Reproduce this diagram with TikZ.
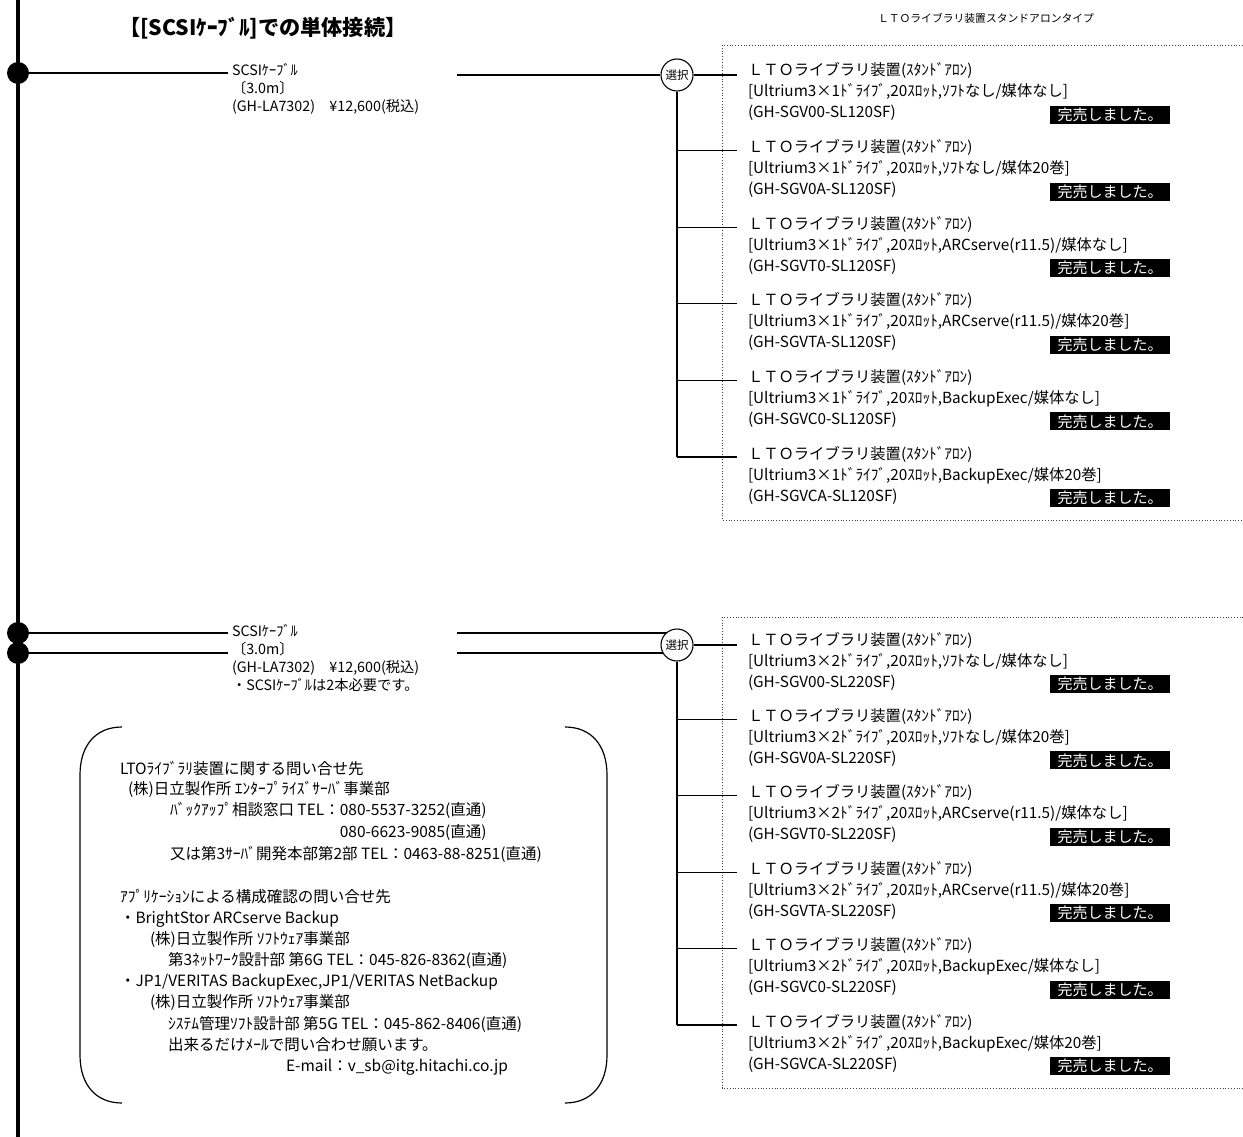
\documentclass[tikz,border=0pt]{standalone}
\usepackage{fontspec}
\setmainfont{Noto Sans CJK JP}
\begin{document}
\begin{tikzpicture}[x=1pt,y=-1pt,
  txt/.style={anchor=west, inner sep=0pt, outer sep=0pt, font=\fontsize{15.3}{16}\selectfont, text height=11pt, text depth=3pt},
  lbl/.style={txt, font=\fontsize{14.3}{15}\selectfont},
  info/.style={txt, font=\fontsize{15.5}{16}\selectfont},
  wire/.style={line width=1.2pt},
  bus/.style={line width=4.5pt},
  dotbox/.style={dotted, line width=0.8pt, draw=black!75},
  selc/.style={circle, draw, line width=1.1pt, fill=white, minimum size=32pt, inner sep=0pt, font=\fontsize{11.5}{12}\selectfont},
  sold/.style={fill=black, text=white, minimum width=120pt, minimum height=18pt, inner sep=0pt, font=\fontsize{15}{15}\selectfont},
  joint/.style={circle, fill=black, minimum size=22pt, inner sep=0pt},
  bracketline/.style={line width=1.2pt},
]
\useasboundingbox (0,0) rectangle (1243,1137);
\clip (0,0) rectangle (1243,1137);

\newcommand\ltoentry[4]{%
  \node[txt] (#1a) at (748,#2) {ＬＴＯライブラリ装置(ｽﾀﾝﾄﾞｱﾛﾝ)};
  \node[txt] (#1b) at (748,#2+21) {#3};
  \node[txt] (#1c) at (748,#2+42) {#4};
  \node[sold] (#1s) at (1110,#2+43) {完売しました。};
}

% title and header
\node[txt, font=\bfseries\fontsize{21.2}{22}\selectfont, text height=16pt, text depth=4pt] (title) at (119,30) {【[SCSIｹｰﾌﾞﾙ]での単体接続】};
\node[inner sep=0pt, font=\fontsize{10.8}{12}\selectfont] (head) at (986,18) {ＬＴＯライブラリ装置スタンドアロンタイプ};

% dotted boxes
\draw[dotbox] (722,45) rectangle (1255,520);
\draw[dotbox] (722,617) rectangle (1255,1088);

% bus
\coordinate (bt) at (18,0);
\coordinate (bb) at (18,1137);
\draw[bus] (bt) -- (bb);

% joints and cables (left)
\coordinate (c1) at (228,73);
\coordinate (c2) at (228,633);
\coordinate (c3) at (228,653);
\node[joint] (d1) at (18,73) {};
\node[joint] (d2) at (18,633) {};
\node[joint] (d3) at (18,653) {};
\draw[wire] (d1.center) -- (c1);
\draw[wire] (d2.center) -- (c2);
\draw[wire] (d3.center) -- (c3);

% cable labels
\node[lbl] (l1a) at (232,72) {SCSIｹｰﾌﾞﾙ};
\node[lbl] (l1b) at (232,90) {〔3.0m〕};
\node[lbl] (l1c) at (232,108) {(GH-LA7302)\hspace{1em}¥12,600(税込)};
\node[lbl] (l2a) at (232,632) {SCSIｹｰﾌﾞﾙ};
\node[lbl] (l2b) at (232,650) {〔3.0m〕};
\node[lbl] (l2c) at (232,668) {(GH-LA7302)\hspace{1em}¥12,600(税込)};
\node[lbl] (l2d) at (232,686) {・SCSIｹｰﾌﾞﾙは2本必要です。};

% selection circles
\coordinate (r1) at (457,75);
\node[selc] (sel1) at (677,75) {選択};
\draw[wire] (r1) -- (sel1.west);
\coordinate (k1) at (737,75);
\draw[wire] (sel1.east) -- (k1);
\coordinate (t1end) at (677,457);
\draw[wire] (sel1.south) -- (t1end);

\coordinate (s2c) at (677,645);
\coordinate (r2) at (457,633);
\coordinate (r3) at (457,653);
\draw[wire] (r2) -- (r2 -| s2c);
\draw[wire] (r3) -- (r3 -| s2c);
\node[selc] (sel2) at (s2c) {選択};
\coordinate (m1) at (737,645);
\draw[wire] (sel2.east) -- (m1);
\coordinate (t2end) at (677,1025);
\draw[wire] (sel2.south) -- (t2end);

% branches
\foreach \yy [count=\i from 2] in {148.6,225.2,301.8,378.4,455}{
  \coordinate (j\i) at (677,\yy+2);
  \coordinate (k\i) at (737,\yy+2);
  \draw[wire] (j\i) -- (k\i);
}
\foreach \yy [count=\i from 2] in {717.4,793.8,870.2,946.6,1023}{
  \coordinate (p\i) at (677,\yy+2);
  \coordinate (q\i) at (737,\yy+2);
  \draw[wire] (p\i) -- (q\i);
}

% top group entries
\ltoentry{e1}{72}{[Ultrium3×1ﾄﾞﾗｲﾌﾞ,20ｽﾛｯﾄ,ｿﾌﾄなし/媒体なし]}{(GH-SGV00-SL120SF)}
\ltoentry{e2}{148.6}{[Ultrium3×1ﾄﾞﾗｲﾌﾞ,20ｽﾛｯﾄ,ｿﾌﾄなし/媒体20巻]}{(GH-SGV0A-SL120SF)}
\ltoentry{e3}{225.2}{[Ultrium3×1ﾄﾞﾗｲﾌﾞ,20ｽﾛｯﾄ,ARCserve(r11.5)/媒体なし]}{(GH-SGVT0-SL120SF)}
\ltoentry{e4}{301.8}{[Ultrium3×1ﾄﾞﾗｲﾌﾞ,20ｽﾛｯﾄ,ARCserve(r11.5)/媒体20巻]}{(GH-SGVTA-SL120SF)}
\ltoentry{e5}{378.4}{[Ultrium3×1ﾄﾞﾗｲﾌﾞ,20ｽﾛｯﾄ,BackupExec/媒体なし]}{(GH-SGVC0-SL120SF)}
\ltoentry{e6}{455}{[Ultrium3×1ﾄﾞﾗｲﾌﾞ,20ｽﾛｯﾄ,BackupExec/媒体20巻]}{(GH-SGVCA-SL120SF)}

% bottom group entries
\ltoentry{f1}{641}{[Ultrium3×2ﾄﾞﾗｲﾌﾞ,20ｽﾛｯﾄ,ｿﾌﾄなし/媒体なし]}{(GH-SGV00-SL220SF)}
\ltoentry{f2}{717.4}{[Ultrium3×2ﾄﾞﾗｲﾌﾞ,20ｽﾛｯﾄ,ｿﾌﾄなし/媒体20巻]}{(GH-SGV0A-SL220SF)}
\ltoentry{f3}{793.8}{[Ultrium3×2ﾄﾞﾗｲﾌﾞ,20ｽﾛｯﾄ,ARCserve(r11.5)/媒体なし]}{(GH-SGVT0-SL220SF)}
\ltoentry{f4}{870.2}{[Ultrium3×2ﾄﾞﾗｲﾌﾞ,20ｽﾛｯﾄ,ARCserve(r11.5)/媒体20巻]}{(GH-SGVTA-SL220SF)}
\ltoentry{f5}{946.6}{[Ultrium3×2ﾄﾞﾗｲﾌﾞ,20ｽﾛｯﾄ,BackupExec/媒体なし]}{(GH-SGVC0-SL220SF)}
\ltoentry{f6}{1023}{[Ultrium3×2ﾄﾞﾗｲﾌﾞ,20ｽﾛｯﾄ,BackupExec/媒体20巻]}{(GH-SGVCA-SL220SF)}

% info box brackets
\draw[bracketline] (122,727) .. controls (96,727) and (80,745) .. (80,775) -- (80,1055) .. controls (80,1085) and (96,1103) .. (122,1103);
\draw[bracketline] (565,727) .. controls (591,727) and (607,745) .. (607,775) -- (607,1055) .. controls (607,1085) and (591,1103) .. (565,1103);

% info text
\node[info] (i1) at (120,770) {LTOﾗｲﾌﾞﾗﾘ装置に関する問い合せ先};
\node[info] (i2) at (128,790) {(株)日立製作所 ｴﾝﾀｰﾌﾟﾗｲｽﾞｻｰﾊﾞ事業部};
\node[info] (i3) at (170,811) {ﾊﾞｯｸｱｯﾌﾟ相談窓口 TEL：080-5537-3252(直通)};
\node[info] (i4) at (170,833) {\phantom{ﾊﾞｯｸｱｯﾌﾟ相談窓口 TEL：}080-6623-9085(直通)};
\node[info] (i5) at (170,855) {又は第3ｻｰﾊﾞ開発本部第2部 TEL：0463-88-8251(直通)};
\node[info] (i6) at (120,898) {ｱﾌﾟﾘｹｰｼｮﾝによる構成確認の問い合せ先};
\node[info] (i7) at (120,919) {・BrightStor ARCserve Backup};
\node[info] (i8) at (150,940) {(株)日立製作所 ｿﾌﾄｳｪｱ事業部};
\node[info] (i9) at (168,961) {第3ﾈｯﾄﾜｰｸ設計部 第6G TEL：045-826-8362(直通)};
\node[info] (i10) at (120,982) {・JP1/VERITAS BackupExec,JP1/VERITAS NetBackup};
\node[info] (i11) at (150,1003) {(株)日立製作所 ｿﾌﾄｳｪｱ事業部};
\node[info] (i12) at (168,1025) {ｼｽﾃﾑ管理ｿﾌﾄ設計部 第5G TEL：045-862-8406(直通)};
\node[info] (i13) at (168,1046) {出来るだけﾒｰﾙで問い合わせ願います。};
\node[info] (i14) at (286,1067) {E-mail：v\_sb@itg.hitachi.co.jp};
\end{tikzpicture}
\end{document}
